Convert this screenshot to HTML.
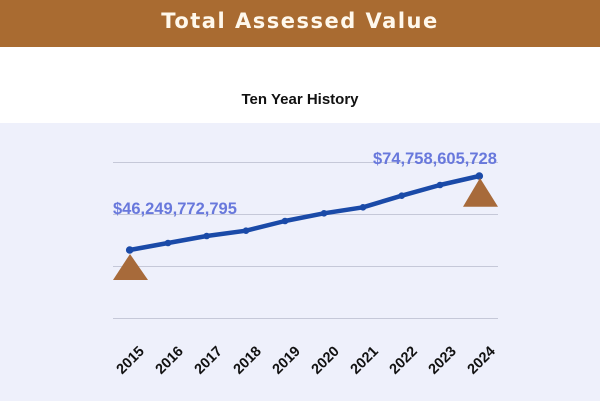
<!DOCTYPE html>
<html><head><style>
body{margin:0;width:600px;height:401px;overflow:hidden;background:#fff;font-family:"Liberation Sans",sans-serif}
</style></head><body>
<svg width="600" height="401" xmlns="http://www.w3.org/2000/svg">
<rect x="0" y="0" width="600" height="47" fill="#a96b31"/>
<text x="300" y="28" text-anchor="middle" fill="#fff8ec" font-family="DejaVu Sans" font-weight="bold" font-size="21" letter-spacing="1.5">Total Assessed Value</text>
<text x="300" y="104" text-anchor="middle" fill="#111" font-weight="bold" font-size="15">Ten Year History</text>
<rect x="0" y="123" width="600" height="278" fill="#eef0fb"/>
<g stroke="#c5c8d8" stroke-width="1">
<line x1="113" y1="162.5" x2="498" y2="162.5"/>
<line x1="113" y1="214.5" x2="498" y2="214.5"/>
<line x1="113" y1="266.5" x2="498" y2="266.5"/>
<line x1="113" y1="318.5" x2="498" y2="318.5"/>
</g>
<polyline fill="none" stroke="#1a4aa8" stroke-width="4.5" stroke-linejoin="round" points="129.7,250 168,243 206.7,236 246,230.7 285,221 324,213.3 363,207.3 401.7,195.7 440,185 479.3,176"/>
<g fill="#1a4aa8">
<circle cx="129.7" cy="250" r="3.8"/><circle cx="168" cy="243" r="3.3"/><circle cx="206.7" cy="236" r="3.3"/><circle cx="246" cy="230.7" r="3.3"/><circle cx="285" cy="221" r="3.3"/><circle cx="324" cy="213.3" r="3.3"/><circle cx="363" cy="207.3" r="3.3"/><circle cx="401.7" cy="195.7" r="3.3"/><circle cx="440" cy="185" r="3.3"/><circle cx="479.3" cy="176" r="3.8"/>
</g>
<polygon points="130,254 113,280 148,280" fill="#a76a3a"/>
<polygon points="480,178 463,206.7 498,206.7" fill="#a76a3a"/>
<text x="113" y="214" fill="#6878dc" font-weight="bold" font-size="16.5">$46,249,772,795</text>
<text x="373" y="164" fill="#6878dc" font-weight="bold" font-size="16.5">$74,758,605,728</text>
<g fill="#111" font-weight="bold" font-size="14.5" text-anchor="end">
<text transform="translate(145,352) rotate(-45)">2015</text>
<text transform="translate(184,352) rotate(-45)">2016</text>
<text transform="translate(223,352) rotate(-45)">2017</text>
<text transform="translate(262,352) rotate(-45)">2018</text>
<text transform="translate(301,352) rotate(-45)">2019</text>
<text transform="translate(340,352) rotate(-45)">2020</text>
<text transform="translate(379,352) rotate(-45)">2021</text>
<text transform="translate(418,352) rotate(-45)">2022</text>
<text transform="translate(457,352) rotate(-45)">2023</text>
<text transform="translate(496,352) rotate(-45)">2024</text>
</g>
</svg>
</body></html>
